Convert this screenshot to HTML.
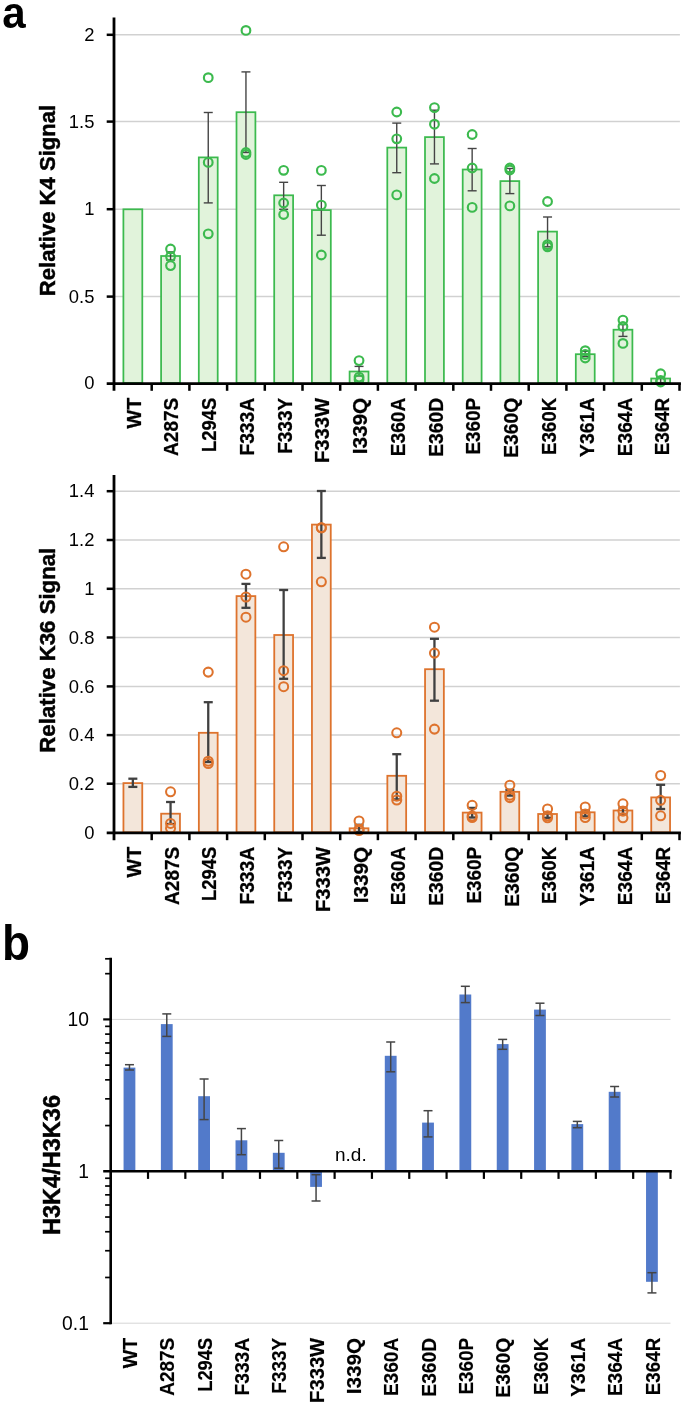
<!DOCTYPE html>
<html lang="en">
<head>
<meta charset="utf-8">
<title>Figure</title>
<style>
html,body{margin:0;padding:0;background:#fff;}
body{width:685px;height:1406px;overflow:hidden;font-family:'Liberation Sans', sans-serif;}
svg{display:block;opacity:0.999;will-change:transform;}
svg text{font-family:'Liberation Sans', sans-serif;fill:#000;}
</style>
</head>
<body>
<svg width="685" height="1406" viewBox="0 0 685 1406">
<rect x="0" y="0" width="685" height="1406" fill="#ffffff"/>
<line x1="114" y1="34.8" x2="679.9" y2="34.8" stroke="#d1d1d1" stroke-width="1.5"/>
<line x1="114" y1="121.6" x2="679.9" y2="121.6" stroke="#d1d1d1" stroke-width="1.5"/>
<line x1="114" y1="209.2" x2="679.9" y2="209.2" stroke="#d1d1d1" stroke-width="1.5"/>
<line x1="114" y1="296.6" x2="679.9" y2="296.6" stroke="#d1d1d1" stroke-width="1.5"/>
<rect x="123.4" y="209.3" width="18.9" height="173.7" fill="#e1f3db" stroke="#3cba4e" stroke-width="1.75"/>
<rect x="161.1" y="256" width="18.9" height="127" fill="#e1f3db" stroke="#3cba4e" stroke-width="1.75"/>
<rect x="198.8" y="157.4" width="18.9" height="225.6" fill="#e1f3db" stroke="#3cba4e" stroke-width="1.75"/>
<rect x="236.5" y="112.2" width="18.9" height="270.8" fill="#e1f3db" stroke="#3cba4e" stroke-width="1.75"/>
<rect x="274.2" y="195.3" width="18.9" height="187.7" fill="#e1f3db" stroke="#3cba4e" stroke-width="1.75"/>
<rect x="311.9" y="210.1" width="18.9" height="172.9" fill="#e1f3db" stroke="#3cba4e" stroke-width="1.75"/>
<rect x="349.6" y="371.5" width="18.9" height="11.5" fill="#e1f3db" stroke="#3cba4e" stroke-width="1.75"/>
<rect x="387.3" y="147.6" width="18.9" height="235.4" fill="#e1f3db" stroke="#3cba4e" stroke-width="1.75"/>
<rect x="425" y="137.1" width="18.9" height="245.9" fill="#e1f3db" stroke="#3cba4e" stroke-width="1.75"/>
<rect x="462.7" y="169.5" width="18.9" height="213.5" fill="#e1f3db" stroke="#3cba4e" stroke-width="1.75"/>
<rect x="500.4" y="181.1" width="18.9" height="201.9" fill="#e1f3db" stroke="#3cba4e" stroke-width="1.75"/>
<rect x="538.1" y="231.6" width="18.9" height="151.4" fill="#e1f3db" stroke="#3cba4e" stroke-width="1.75"/>
<rect x="575.8" y="354.2" width="18.9" height="28.8" fill="#e1f3db" stroke="#3cba4e" stroke-width="1.75"/>
<rect x="613.5" y="329.7" width="18.9" height="53.3" fill="#e1f3db" stroke="#3cba4e" stroke-width="1.75"/>
<rect x="651.2" y="378.5" width="18.9" height="4.5" fill="#e1f3db" stroke="#3cba4e" stroke-width="1.75"/>
<line x1="170.55" y1="251.9" x2="170.55" y2="260" stroke="#454545" stroke-width="1.4"/>
<line x1="166.05" y1="251.9" x2="175.05" y2="251.9" stroke="#454545" stroke-width="1.4"/>
<line x1="166.05" y1="260" x2="175.05" y2="260" stroke="#454545" stroke-width="1.4"/>
<line x1="208.25" y1="112.5" x2="208.25" y2="202.9" stroke="#454545" stroke-width="1.4"/>
<line x1="203.75" y1="112.5" x2="212.75" y2="112.5" stroke="#454545" stroke-width="1.4"/>
<line x1="203.75" y1="202.9" x2="212.75" y2="202.9" stroke="#454545" stroke-width="1.4"/>
<line x1="245.95" y1="71.9" x2="245.95" y2="152.5" stroke="#454545" stroke-width="1.4"/>
<line x1="241.45" y1="71.9" x2="250.45" y2="71.9" stroke="#454545" stroke-width="1.4"/>
<line x1="241.45" y1="152.5" x2="250.45" y2="152.5" stroke="#454545" stroke-width="1.4"/>
<line x1="283.65" y1="182.3" x2="283.65" y2="209.3" stroke="#454545" stroke-width="1.4"/>
<line x1="279.15" y1="182.3" x2="288.15" y2="182.3" stroke="#454545" stroke-width="1.4"/>
<line x1="279.15" y1="209.3" x2="288.15" y2="209.3" stroke="#454545" stroke-width="1.4"/>
<line x1="321.35" y1="185.5" x2="321.35" y2="235.2" stroke="#454545" stroke-width="1.4"/>
<line x1="316.85" y1="185.5" x2="325.85" y2="185.5" stroke="#454545" stroke-width="1.4"/>
<line x1="316.85" y1="235.2" x2="325.85" y2="235.2" stroke="#454545" stroke-width="1.4"/>
<line x1="359.05" y1="366.4" x2="359.05" y2="375.9" stroke="#454545" stroke-width="1.4"/>
<line x1="354.55" y1="366.4" x2="363.55" y2="366.4" stroke="#454545" stroke-width="1.4"/>
<line x1="354.55" y1="375.9" x2="363.55" y2="375.9" stroke="#454545" stroke-width="1.4"/>
<line x1="396.75" y1="123.1" x2="396.75" y2="172.7" stroke="#454545" stroke-width="1.4"/>
<line x1="392.25" y1="123.1" x2="401.25" y2="123.1" stroke="#454545" stroke-width="1.4"/>
<line x1="392.25" y1="172.7" x2="401.25" y2="172.7" stroke="#454545" stroke-width="1.4"/>
<line x1="434.45" y1="110.2" x2="434.45" y2="163.9" stroke="#454545" stroke-width="1.4"/>
<line x1="429.95" y1="110.2" x2="438.95" y2="110.2" stroke="#454545" stroke-width="1.4"/>
<line x1="429.95" y1="163.9" x2="438.95" y2="163.9" stroke="#454545" stroke-width="1.4"/>
<line x1="472.15" y1="148.5" x2="472.15" y2="190.8" stroke="#454545" stroke-width="1.4"/>
<line x1="467.65" y1="148.5" x2="476.65" y2="148.5" stroke="#454545" stroke-width="1.4"/>
<line x1="467.65" y1="190.8" x2="476.65" y2="190.8" stroke="#454545" stroke-width="1.4"/>
<line x1="509.85" y1="168.5" x2="509.85" y2="193.6" stroke="#454545" stroke-width="1.4"/>
<line x1="505.35" y1="168.5" x2="514.35" y2="168.5" stroke="#454545" stroke-width="1.4"/>
<line x1="505.35" y1="193.6" x2="514.35" y2="193.6" stroke="#454545" stroke-width="1.4"/>
<line x1="547.55" y1="217" x2="547.55" y2="246.8" stroke="#454545" stroke-width="1.4"/>
<line x1="543.05" y1="217" x2="552.05" y2="217" stroke="#454545" stroke-width="1.4"/>
<line x1="543.05" y1="246.8" x2="552.05" y2="246.8" stroke="#454545" stroke-width="1.4"/>
<line x1="585.25" y1="351.3" x2="585.25" y2="356.6" stroke="#454545" stroke-width="1.4"/>
<line x1="580.75" y1="351.3" x2="589.75" y2="351.3" stroke="#454545" stroke-width="1.4"/>
<line x1="580.75" y1="356.6" x2="589.75" y2="356.6" stroke="#454545" stroke-width="1.4"/>
<line x1="622.95" y1="324.5" x2="622.95" y2="336.4" stroke="#454545" stroke-width="1.4"/>
<line x1="618.45" y1="324.5" x2="627.45" y2="324.5" stroke="#454545" stroke-width="1.4"/>
<line x1="618.45" y1="336.4" x2="627.45" y2="336.4" stroke="#454545" stroke-width="1.4"/>
<line x1="660.65" y1="377" x2="660.65" y2="383" stroke="#454545" stroke-width="1.4"/>
<line x1="656.15" y1="377" x2="665.15" y2="377" stroke="#454545" stroke-width="1.4"/>
<line x1="656.15" y1="383" x2="665.15" y2="383" stroke="#454545" stroke-width="1.4"/>
<circle cx="170.55" cy="249" r="4.35" fill="none" stroke="#3cba4e" stroke-width="2.15"/>
<circle cx="170.55" cy="256.6" r="4.35" fill="none" stroke="#3cba4e" stroke-width="2.15"/>
<circle cx="170.55" cy="265.6" r="4.35" fill="none" stroke="#3cba4e" stroke-width="2.15"/>
<circle cx="208.25" cy="77.7" r="4.35" fill="none" stroke="#3cba4e" stroke-width="2.15"/>
<circle cx="208.25" cy="162.4" r="4.35" fill="none" stroke="#3cba4e" stroke-width="2.15"/>
<circle cx="208.25" cy="233.8" r="4.35" fill="none" stroke="#3cba4e" stroke-width="2.15"/>
<circle cx="245.95" cy="30.4" r="4.35" fill="none" stroke="#3cba4e" stroke-width="2.15"/>
<circle cx="245.95" cy="152.5" r="4.35" fill="none" stroke="#3cba4e" stroke-width="2.15"/>
<circle cx="245.95" cy="154.5" r="4.35" fill="none" stroke="#3cba4e" stroke-width="2.15"/>
<circle cx="283.65" cy="170.3" r="4.35" fill="none" stroke="#3cba4e" stroke-width="2.15"/>
<circle cx="283.65" cy="203" r="4.35" fill="none" stroke="#3cba4e" stroke-width="2.15"/>
<circle cx="283.65" cy="214.5" r="4.35" fill="none" stroke="#3cba4e" stroke-width="2.15"/>
<circle cx="321.35" cy="170.4" r="4.35" fill="none" stroke="#3cba4e" stroke-width="2.15"/>
<circle cx="321.35" cy="205.1" r="4.35" fill="none" stroke="#3cba4e" stroke-width="2.15"/>
<circle cx="321.35" cy="255" r="4.35" fill="none" stroke="#3cba4e" stroke-width="2.15"/>
<circle cx="359.05" cy="360.6" r="4.35" fill="none" stroke="#3cba4e" stroke-width="2.15"/>
<circle cx="359.05" cy="377.1" r="4.35" fill="none" stroke="#3cba4e" stroke-width="2.15"/>
<circle cx="359.05" cy="379.5" r="4.35" fill="none" stroke="#3cba4e" stroke-width="2.15"/>
<circle cx="396.75" cy="112" r="4.35" fill="none" stroke="#3cba4e" stroke-width="2.15"/>
<circle cx="396.75" cy="138.8" r="4.35" fill="none" stroke="#3cba4e" stroke-width="2.15"/>
<circle cx="396.75" cy="194.9" r="4.35" fill="none" stroke="#3cba4e" stroke-width="2.15"/>
<circle cx="434.45" cy="107.6" r="4.35" fill="none" stroke="#3cba4e" stroke-width="2.15"/>
<circle cx="434.45" cy="124.2" r="4.35" fill="none" stroke="#3cba4e" stroke-width="2.15"/>
<circle cx="434.45" cy="178.5" r="4.35" fill="none" stroke="#3cba4e" stroke-width="2.15"/>
<circle cx="472.15" cy="134.5" r="4.35" fill="none" stroke="#3cba4e" stroke-width="2.15"/>
<circle cx="472.15" cy="168" r="4.35" fill="none" stroke="#3cba4e" stroke-width="2.15"/>
<circle cx="472.15" cy="207.4" r="4.35" fill="none" stroke="#3cba4e" stroke-width="2.15"/>
<circle cx="509.85" cy="168" r="4.35" fill="none" stroke="#3cba4e" stroke-width="2.15"/>
<circle cx="509.85" cy="170" r="4.35" fill="none" stroke="#3cba4e" stroke-width="2.15"/>
<circle cx="509.85" cy="205.9" r="4.35" fill="none" stroke="#3cba4e" stroke-width="2.15"/>
<circle cx="547.55" cy="201.5" r="4.35" fill="none" stroke="#3cba4e" stroke-width="2.15"/>
<circle cx="547.55" cy="244.7" r="4.35" fill="none" stroke="#3cba4e" stroke-width="2.15"/>
<circle cx="547.55" cy="246.8" r="4.35" fill="none" stroke="#3cba4e" stroke-width="2.15"/>
<circle cx="585.25" cy="350.7" r="4.35" fill="none" stroke="#3cba4e" stroke-width="2.15"/>
<circle cx="585.25" cy="354.5" r="4.35" fill="none" stroke="#3cba4e" stroke-width="2.15"/>
<circle cx="585.25" cy="358" r="4.35" fill="none" stroke="#3cba4e" stroke-width="2.15"/>
<circle cx="622.95" cy="320.1" r="4.35" fill="none" stroke="#3cba4e" stroke-width="2.15"/>
<circle cx="622.95" cy="326.5" r="4.35" fill="none" stroke="#3cba4e" stroke-width="2.15"/>
<circle cx="622.95" cy="343.4" r="4.35" fill="none" stroke="#3cba4e" stroke-width="2.15"/>
<circle cx="660.65" cy="373.8" r="4.35" fill="none" stroke="#3cba4e" stroke-width="2.15"/>
<circle cx="660.65" cy="380.5" r="4.35" fill="none" stroke="#3cba4e" stroke-width="2.15"/>
<circle cx="660.65" cy="382" r="4.35" fill="none" stroke="#3cba4e" stroke-width="2.15"/>
<line x1="114" y1="17.5" x2="114" y2="390.8" stroke="#000" stroke-width="2.8"/>
<line x1="106.7" y1="383.6" x2="680.9" y2="383.6" stroke="#000" stroke-width="2.8"/>
<line x1="151.7" y1="383" x2="151.7" y2="390.8" stroke="#000" stroke-width="2.5"/>
<line x1="189.4" y1="383" x2="189.4" y2="390.8" stroke="#000" stroke-width="2.5"/>
<line x1="227.1" y1="383" x2="227.1" y2="390.8" stroke="#000" stroke-width="2.5"/>
<line x1="264.8" y1="383" x2="264.8" y2="390.8" stroke="#000" stroke-width="2.5"/>
<line x1="302.5" y1="383" x2="302.5" y2="390.8" stroke="#000" stroke-width="2.5"/>
<line x1="340.2" y1="383" x2="340.2" y2="390.8" stroke="#000" stroke-width="2.5"/>
<line x1="377.9" y1="383" x2="377.9" y2="390.8" stroke="#000" stroke-width="2.5"/>
<line x1="415.6" y1="383" x2="415.6" y2="390.8" stroke="#000" stroke-width="2.5"/>
<line x1="453.3" y1="383" x2="453.3" y2="390.8" stroke="#000" stroke-width="2.5"/>
<line x1="491" y1="383" x2="491" y2="390.8" stroke="#000" stroke-width="2.5"/>
<line x1="528.7" y1="383" x2="528.7" y2="390.8" stroke="#000" stroke-width="2.5"/>
<line x1="566.4" y1="383" x2="566.4" y2="390.8" stroke="#000" stroke-width="2.5"/>
<line x1="604.1" y1="383" x2="604.1" y2="390.8" stroke="#000" stroke-width="2.5"/>
<line x1="641.8" y1="383" x2="641.8" y2="390.8" stroke="#000" stroke-width="2.5"/>
<line x1="679.5" y1="383" x2="679.5" y2="390.8" stroke="#000" stroke-width="2.5"/>
<line x1="106.7" y1="34.8" x2="114" y2="34.8" stroke="#000" stroke-width="2.5"/>
<text x="94.4" y="40.9" font-size="18.4" font-weight="normal" text-anchor="end">2</text>
<line x1="106.7" y1="121.6" x2="114" y2="121.6" stroke="#000" stroke-width="2.5"/>
<text x="94.4" y="127.7" font-size="18.4" font-weight="normal" text-anchor="end">1.5</text>
<line x1="106.7" y1="209.2" x2="114" y2="209.2" stroke="#000" stroke-width="2.5"/>
<text x="94.4" y="215.3" font-size="18.4" font-weight="normal" text-anchor="end">1</text>
<line x1="106.7" y1="296.6" x2="114" y2="296.6" stroke="#000" stroke-width="2.5"/>
<text x="94.4" y="302.7" font-size="18.4" font-weight="normal" text-anchor="end">0.5</text>
<text x="94.4" y="389.4" font-size="18.4" font-weight="normal" text-anchor="end">0</text>
<text x="140.65" y="397.8" font-size="20" font-weight="bold" text-anchor="end" transform="rotate(-90 140.65 397.8)" textLength="30.6" lengthAdjust="spacingAndGlyphs" stroke="#000" stroke-width="0.25">WT</text>
<text x="178.41" y="397.8" font-size="20" font-weight="bold" text-anchor="end" transform="rotate(-90 178.41 397.8)" textLength="58.1" lengthAdjust="spacingAndGlyphs" stroke="#000" stroke-width="0.25">A287S</text>
<text x="216.17" y="397.8" font-size="20" font-weight="bold" text-anchor="end" transform="rotate(-90 216.17 397.8)" textLength="54.1" lengthAdjust="spacingAndGlyphs" stroke="#000" stroke-width="0.25">L294S</text>
<text x="253.93" y="397.8" font-size="20" font-weight="bold" text-anchor="end" transform="rotate(-90 253.93 397.8)" textLength="57.8" lengthAdjust="spacingAndGlyphs" stroke="#000" stroke-width="0.25">F333A</text>
<text x="291.69" y="397.8" font-size="20" font-weight="bold" text-anchor="end" transform="rotate(-90 291.69 397.8)" textLength="56" lengthAdjust="spacingAndGlyphs" stroke="#000" stroke-width="0.25">F333Y</text>
<text x="329.45" y="397.8" font-size="20" font-weight="bold" text-anchor="end" transform="rotate(-90 329.45 397.8)" textLength="65.2" lengthAdjust="spacingAndGlyphs" stroke="#000" stroke-width="0.25">F333W</text>
<text x="367.21" y="397.8" font-size="20" font-weight="bold" text-anchor="end" transform="rotate(-90 367.21 397.8)" textLength="56.5" lengthAdjust="spacingAndGlyphs" stroke="#000" stroke-width="0.25">I339Q</text>
<text x="404.97" y="397.8" font-size="20" font-weight="bold" text-anchor="end" transform="rotate(-90 404.97 397.8)" textLength="58.4" lengthAdjust="spacingAndGlyphs" stroke="#000" stroke-width="0.25">E360A</text>
<text x="442.73" y="397.8" font-size="20" font-weight="bold" text-anchor="end" transform="rotate(-90 442.73 397.8)" textLength="59" lengthAdjust="spacingAndGlyphs" stroke="#000" stroke-width="0.25">E360D</text>
<text x="480.49" y="397.8" font-size="20" font-weight="bold" text-anchor="end" transform="rotate(-90 480.49 397.8)" textLength="56.8" lengthAdjust="spacingAndGlyphs" stroke="#000" stroke-width="0.25">E360P</text>
<text x="518.25" y="397.8" font-size="20" font-weight="bold" text-anchor="end" transform="rotate(-90 518.25 397.8)" textLength="60" lengthAdjust="spacingAndGlyphs" stroke="#000" stroke-width="0.25">E360Q</text>
<text x="556.01" y="397.8" font-size="20" font-weight="bold" text-anchor="end" transform="rotate(-90 556.01 397.8)" textLength="57.2" lengthAdjust="spacingAndGlyphs" stroke="#000" stroke-width="0.25">E360K</text>
<text x="593.77" y="397.8" font-size="20" font-weight="bold" text-anchor="end" transform="rotate(-90 593.77 397.8)" textLength="59.1" lengthAdjust="spacingAndGlyphs" stroke="#000" stroke-width="0.25">Y361A</text>
<text x="631.53" y="397.8" font-size="20" font-weight="bold" text-anchor="end" transform="rotate(-90 631.53 397.8)" textLength="58.4" lengthAdjust="spacingAndGlyphs" stroke="#000" stroke-width="0.25">E364A</text>
<text x="669.29" y="397.8" font-size="20" font-weight="bold" text-anchor="end" transform="rotate(-90 669.29 397.8)" textLength="57.5" lengthAdjust="spacingAndGlyphs" stroke="#000" stroke-width="0.25">E364R</text>
<text x="55.1" y="200.5" font-size="21.3" font-weight="bold" text-anchor="middle" transform="rotate(-90 55.1 200.5)" textLength="191.5" lengthAdjust="spacingAndGlyphs" fill="#000" stroke="#000" stroke-width="0.45">Relative K4 Signal</text>
<line x1="114" y1="491.2" x2="679.9" y2="491.2" stroke="#d1d1d1" stroke-width="1.5"/>
<line x1="114" y1="540" x2="679.9" y2="540" stroke="#d1d1d1" stroke-width="1.5"/>
<line x1="114" y1="588.8" x2="679.9" y2="588.8" stroke="#d1d1d1" stroke-width="1.5"/>
<line x1="114" y1="637.5" x2="679.9" y2="637.5" stroke="#d1d1d1" stroke-width="1.5"/>
<line x1="114" y1="686.4" x2="679.9" y2="686.4" stroke="#d1d1d1" stroke-width="1.5"/>
<line x1="114" y1="735.1" x2="679.9" y2="735.1" stroke="#d1d1d1" stroke-width="1.5"/>
<line x1="114" y1="783.7" x2="679.9" y2="783.7" stroke="#d1d1d1" stroke-width="1.5"/>
<rect x="123.45" y="783.1" width="18.8" height="49.3" fill="#f3e6da" stroke="#de732d" stroke-width="1.8"/>
<rect x="161.15" y="813.7" width="18.8" height="18.7" fill="#f3e6da" stroke="#de732d" stroke-width="1.8"/>
<rect x="198.85" y="732.8" width="18.8" height="99.6" fill="#f3e6da" stroke="#de732d" stroke-width="1.8"/>
<rect x="236.55" y="596.1" width="18.8" height="236.3" fill="#f3e6da" stroke="#de732d" stroke-width="1.8"/>
<rect x="274.25" y="635" width="18.8" height="197.4" fill="#f3e6da" stroke="#de732d" stroke-width="1.8"/>
<rect x="311.95" y="524.6" width="18.8" height="307.8" fill="#f3e6da" stroke="#de732d" stroke-width="1.8"/>
<rect x="349.65" y="828.3" width="18.8" height="4.1" fill="#f3e6da" stroke="#de732d" stroke-width="1.8"/>
<rect x="387.35" y="775.8" width="18.8" height="56.6" fill="#f3e6da" stroke="#de732d" stroke-width="1.8"/>
<rect x="425.05" y="669.2" width="18.8" height="163.2" fill="#f3e6da" stroke="#de732d" stroke-width="1.8"/>
<rect x="462.75" y="812.6" width="18.8" height="19.8" fill="#f3e6da" stroke="#de732d" stroke-width="1.8"/>
<rect x="500.45" y="791.8" width="18.8" height="40.6" fill="#f3e6da" stroke="#de732d" stroke-width="1.8"/>
<rect x="538.15" y="814" width="18.8" height="18.4" fill="#f3e6da" stroke="#de732d" stroke-width="1.8"/>
<rect x="575.85" y="812.3" width="18.8" height="20.1" fill="#f3e6da" stroke="#de732d" stroke-width="1.8"/>
<rect x="613.55" y="810.5" width="18.8" height="21.9" fill="#f3e6da" stroke="#de732d" stroke-width="1.8"/>
<rect x="651.25" y="797.4" width="18.8" height="35" fill="#f3e6da" stroke="#de732d" stroke-width="1.8"/>
<line x1="132.85" y1="778.7" x2="132.85" y2="786.9" stroke="#404040" stroke-width="2.3"/>
<line x1="128.35" y1="778.7" x2="137.35" y2="778.7" stroke="#404040" stroke-width="2.3"/>
<line x1="128.35" y1="786.9" x2="137.35" y2="786.9" stroke="#404040" stroke-width="2.3"/>
<line x1="170.55" y1="802" x2="170.55" y2="824" stroke="#404040" stroke-width="2.3"/>
<line x1="166.05" y1="802" x2="175.05" y2="802" stroke="#404040" stroke-width="2.3"/>
<line x1="166.05" y1="824" x2="175.05" y2="824" stroke="#404040" stroke-width="2.3"/>
<line x1="208.25" y1="702.2" x2="208.25" y2="762" stroke="#404040" stroke-width="2.3"/>
<line x1="203.75" y1="702.2" x2="212.75" y2="702.2" stroke="#404040" stroke-width="2.3"/>
<line x1="203.75" y1="762" x2="212.75" y2="762" stroke="#404040" stroke-width="2.3"/>
<line x1="245.95" y1="583.9" x2="245.95" y2="607.8" stroke="#404040" stroke-width="2.3"/>
<line x1="241.45" y1="583.9" x2="250.45" y2="583.9" stroke="#404040" stroke-width="2.3"/>
<line x1="241.45" y1="607.8" x2="250.45" y2="607.8" stroke="#404040" stroke-width="2.3"/>
<line x1="283.65" y1="590" x2="283.65" y2="678.8" stroke="#404040" stroke-width="2.3"/>
<line x1="279.15" y1="590" x2="288.15" y2="590" stroke="#404040" stroke-width="2.3"/>
<line x1="279.15" y1="678.8" x2="288.15" y2="678.8" stroke="#404040" stroke-width="2.3"/>
<line x1="321.35" y1="491" x2="321.35" y2="557.9" stroke="#404040" stroke-width="2.3"/>
<line x1="316.85" y1="491" x2="325.85" y2="491" stroke="#404040" stroke-width="2.3"/>
<line x1="316.85" y1="557.9" x2="325.85" y2="557.9" stroke="#404040" stroke-width="2.3"/>
<line x1="359.05" y1="824.8" x2="359.05" y2="832" stroke="#404040" stroke-width="2.3"/>
<line x1="354.55" y1="824.8" x2="363.55" y2="824.8" stroke="#404040" stroke-width="2.3"/>
<line x1="354.55" y1="832" x2="363.55" y2="832" stroke="#404040" stroke-width="2.3"/>
<line x1="396.75" y1="754.2" x2="396.75" y2="799.4" stroke="#404040" stroke-width="2.3"/>
<line x1="392.25" y1="754.2" x2="401.25" y2="754.2" stroke="#404040" stroke-width="2.3"/>
<line x1="392.25" y1="799.4" x2="401.25" y2="799.4" stroke="#404040" stroke-width="2.3"/>
<line x1="434.45" y1="638.8" x2="434.45" y2="700.7" stroke="#404040" stroke-width="2.3"/>
<line x1="429.95" y1="638.8" x2="438.95" y2="638.8" stroke="#404040" stroke-width="2.3"/>
<line x1="429.95" y1="700.7" x2="438.95" y2="700.7" stroke="#404040" stroke-width="2.3"/>
<line x1="472.15" y1="807.9" x2="472.15" y2="817.5" stroke="#404040" stroke-width="2.3"/>
<line x1="467.65" y1="807.9" x2="476.65" y2="807.9" stroke="#404040" stroke-width="2.3"/>
<line x1="467.65" y1="817.5" x2="476.65" y2="817.5" stroke="#404040" stroke-width="2.3"/>
<line x1="509.85" y1="789.8" x2="509.85" y2="795.6" stroke="#404040" stroke-width="2.3"/>
<line x1="505.35" y1="789.8" x2="514.35" y2="789.8" stroke="#404040" stroke-width="2.3"/>
<line x1="505.35" y1="795.6" x2="514.35" y2="795.6" stroke="#404040" stroke-width="2.3"/>
<line x1="547.55" y1="812.8" x2="547.55" y2="817.8" stroke="#404040" stroke-width="2.3"/>
<line x1="543.05" y1="812.8" x2="552.05" y2="812.8" stroke="#404040" stroke-width="2.3"/>
<line x1="543.05" y1="817.8" x2="552.05" y2="817.8" stroke="#404040" stroke-width="2.3"/>
<line x1="585.25" y1="810.5" x2="585.25" y2="816.4" stroke="#404040" stroke-width="2.3"/>
<line x1="580.75" y1="810.5" x2="589.75" y2="810.5" stroke="#404040" stroke-width="2.3"/>
<line x1="580.75" y1="816.4" x2="589.75" y2="816.4" stroke="#404040" stroke-width="2.3"/>
<line x1="622.95" y1="807.6" x2="622.95" y2="814" stroke="#404040" stroke-width="2.3"/>
<line x1="618.45" y1="807.6" x2="627.45" y2="807.6" stroke="#404040" stroke-width="2.3"/>
<line x1="618.45" y1="814" x2="627.45" y2="814" stroke="#404040" stroke-width="2.3"/>
<line x1="660.65" y1="784.8" x2="660.65" y2="809" stroke="#404040" stroke-width="2.3"/>
<line x1="656.15" y1="784.8" x2="665.15" y2="784.8" stroke="#404040" stroke-width="2.3"/>
<line x1="656.15" y1="809" x2="665.15" y2="809" stroke="#404040" stroke-width="2.3"/>
<circle cx="170.55" cy="791.8" r="4.5" fill="none" stroke="#de732d" stroke-width="2.05"/>
<circle cx="170.55" cy="823.4" r="4.5" fill="none" stroke="#de732d" stroke-width="2.05"/>
<circle cx="170.55" cy="828.3" r="4.5" fill="none" stroke="#de732d" stroke-width="2.05"/>
<circle cx="208.25" cy="672.1" r="4.5" fill="none" stroke="#de732d" stroke-width="2.05"/>
<circle cx="208.25" cy="761.2" r="4.5" fill="none" stroke="#de732d" stroke-width="2.05"/>
<circle cx="208.25" cy="763.5" r="4.5" fill="none" stroke="#de732d" stroke-width="2.05"/>
<circle cx="245.95" cy="574.2" r="4.5" fill="none" stroke="#de732d" stroke-width="2.05"/>
<circle cx="245.95" cy="597" r="4.5" fill="none" stroke="#de732d" stroke-width="2.05"/>
<circle cx="245.95" cy="617.2" r="4.5" fill="none" stroke="#de732d" stroke-width="2.05"/>
<circle cx="283.65" cy="546.8" r="4.5" fill="none" stroke="#de732d" stroke-width="2.05"/>
<circle cx="283.65" cy="670.7" r="4.5" fill="none" stroke="#de732d" stroke-width="2.05"/>
<circle cx="283.65" cy="686.7" r="4.5" fill="none" stroke="#de732d" stroke-width="2.05"/>
<circle cx="321.35" cy="527.8" r="4.5" fill="none" stroke="#de732d" stroke-width="2.05"/>
<circle cx="321.35" cy="527.8" r="4.5" fill="none" stroke="#de732d" stroke-width="2.05"/>
<circle cx="321.35" cy="581.8" r="4.5" fill="none" stroke="#de732d" stroke-width="2.05"/>
<circle cx="359.05" cy="821" r="4.5" fill="none" stroke="#de732d" stroke-width="2.05"/>
<circle cx="359.05" cy="829.2" r="4.5" fill="none" stroke="#de732d" stroke-width="2.05"/>
<circle cx="359.05" cy="830.5" r="4.5" fill="none" stroke="#de732d" stroke-width="2.05"/>
<circle cx="396.75" cy="732.8" r="4.5" fill="none" stroke="#de732d" stroke-width="2.05"/>
<circle cx="396.75" cy="796.2" r="4.5" fill="none" stroke="#de732d" stroke-width="2.05"/>
<circle cx="396.75" cy="800" r="4.5" fill="none" stroke="#de732d" stroke-width="2.05"/>
<circle cx="434.45" cy="627.2" r="4.5" fill="none" stroke="#de732d" stroke-width="2.05"/>
<circle cx="434.45" cy="653.1" r="4.5" fill="none" stroke="#de732d" stroke-width="2.05"/>
<circle cx="434.45" cy="729.1" r="4.5" fill="none" stroke="#de732d" stroke-width="2.05"/>
<circle cx="472.15" cy="805.3" r="4.5" fill="none" stroke="#de732d" stroke-width="2.05"/>
<circle cx="472.15" cy="816" r="4.5" fill="none" stroke="#de732d" stroke-width="2.05"/>
<circle cx="472.15" cy="817.5" r="4.5" fill="none" stroke="#de732d" stroke-width="2.05"/>
<circle cx="509.85" cy="785.2" r="4.5" fill="none" stroke="#de732d" stroke-width="2.05"/>
<circle cx="509.85" cy="795.2" r="4.5" fill="none" stroke="#de732d" stroke-width="2.05"/>
<circle cx="509.85" cy="797.6" r="4.5" fill="none" stroke="#de732d" stroke-width="2.05"/>
<circle cx="547.55" cy="809" r="4.5" fill="none" stroke="#de732d" stroke-width="2.05"/>
<circle cx="547.55" cy="815.8" r="4.5" fill="none" stroke="#de732d" stroke-width="2.05"/>
<circle cx="547.55" cy="817.8" r="4.5" fill="none" stroke="#de732d" stroke-width="2.05"/>
<circle cx="585.25" cy="807" r="4.5" fill="none" stroke="#de732d" stroke-width="2.05"/>
<circle cx="585.25" cy="814" r="4.5" fill="none" stroke="#de732d" stroke-width="2.05"/>
<circle cx="585.25" cy="817.5" r="4.5" fill="none" stroke="#de732d" stroke-width="2.05"/>
<circle cx="622.95" cy="803.8" r="4.5" fill="none" stroke="#de732d" stroke-width="2.05"/>
<circle cx="622.95" cy="811.1" r="4.5" fill="none" stroke="#de732d" stroke-width="2.05"/>
<circle cx="622.95" cy="817.8" r="4.5" fill="none" stroke="#de732d" stroke-width="2.05"/>
<circle cx="660.65" cy="775.5" r="4.5" fill="none" stroke="#de732d" stroke-width="2.05"/>
<circle cx="660.65" cy="800.3" r="4.5" fill="none" stroke="#de732d" stroke-width="2.05"/>
<circle cx="660.65" cy="815.8" r="4.5" fill="none" stroke="#de732d" stroke-width="2.05"/>
<line x1="114" y1="475" x2="114" y2="840.2" stroke="#000" stroke-width="2.8"/>
<line x1="106.7" y1="832.8" x2="680.9" y2="832.8" stroke="#000" stroke-width="2.8"/>
<line x1="151.7" y1="832.4" x2="151.7" y2="840.2" stroke="#000" stroke-width="2.5"/>
<line x1="189.4" y1="832.4" x2="189.4" y2="840.2" stroke="#000" stroke-width="2.5"/>
<line x1="227.1" y1="832.4" x2="227.1" y2="840.2" stroke="#000" stroke-width="2.5"/>
<line x1="264.8" y1="832.4" x2="264.8" y2="840.2" stroke="#000" stroke-width="2.5"/>
<line x1="302.5" y1="832.4" x2="302.5" y2="840.2" stroke="#000" stroke-width="2.5"/>
<line x1="340.2" y1="832.4" x2="340.2" y2="840.2" stroke="#000" stroke-width="2.5"/>
<line x1="377.9" y1="832.4" x2="377.9" y2="840.2" stroke="#000" stroke-width="2.5"/>
<line x1="415.6" y1="832.4" x2="415.6" y2="840.2" stroke="#000" stroke-width="2.5"/>
<line x1="453.3" y1="832.4" x2="453.3" y2="840.2" stroke="#000" stroke-width="2.5"/>
<line x1="491" y1="832.4" x2="491" y2="840.2" stroke="#000" stroke-width="2.5"/>
<line x1="528.7" y1="832.4" x2="528.7" y2="840.2" stroke="#000" stroke-width="2.5"/>
<line x1="566.4" y1="832.4" x2="566.4" y2="840.2" stroke="#000" stroke-width="2.5"/>
<line x1="604.1" y1="832.4" x2="604.1" y2="840.2" stroke="#000" stroke-width="2.5"/>
<line x1="641.8" y1="832.4" x2="641.8" y2="840.2" stroke="#000" stroke-width="2.5"/>
<line x1="679.5" y1="832.4" x2="679.5" y2="840.2" stroke="#000" stroke-width="2.5"/>
<line x1="106.7" y1="491.2" x2="114" y2="491.2" stroke="#000" stroke-width="2.5"/>
<text x="94.4" y="497.3" font-size="18.4" font-weight="normal" text-anchor="end">1.4</text>
<line x1="106.7" y1="540" x2="114" y2="540" stroke="#000" stroke-width="2.5"/>
<text x="94.4" y="546.1" font-size="18.4" font-weight="normal" text-anchor="end">1.2</text>
<line x1="106.7" y1="588.8" x2="114" y2="588.8" stroke="#000" stroke-width="2.5"/>
<text x="94.4" y="594.9" font-size="18.4" font-weight="normal" text-anchor="end">1</text>
<line x1="106.7" y1="637.5" x2="114" y2="637.5" stroke="#000" stroke-width="2.5"/>
<text x="94.4" y="643.6" font-size="18.4" font-weight="normal" text-anchor="end">0.8</text>
<line x1="106.7" y1="686.4" x2="114" y2="686.4" stroke="#000" stroke-width="2.5"/>
<text x="94.4" y="692.5" font-size="18.4" font-weight="normal" text-anchor="end">0.6</text>
<line x1="106.7" y1="735.1" x2="114" y2="735.1" stroke="#000" stroke-width="2.5"/>
<text x="94.4" y="741.2" font-size="18.4" font-weight="normal" text-anchor="end">0.4</text>
<line x1="106.7" y1="783.7" x2="114" y2="783.7" stroke="#000" stroke-width="2.5"/>
<text x="94.4" y="789.8" font-size="18.4" font-weight="normal" text-anchor="end">0.2</text>
<text x="94.4" y="838.9" font-size="18.4" font-weight="normal" text-anchor="end">0</text>
<text x="140.95" y="846.8" font-size="20" font-weight="bold" text-anchor="end" transform="rotate(-90 140.95 846.8)" textLength="30.6" lengthAdjust="spacingAndGlyphs" stroke="#000" stroke-width="0.25">WT</text>
<text x="178.71" y="846.8" font-size="20" font-weight="bold" text-anchor="end" transform="rotate(-90 178.71 846.8)" textLength="58.1" lengthAdjust="spacingAndGlyphs" stroke="#000" stroke-width="0.25">A287S</text>
<text x="216.47" y="846.8" font-size="20" font-weight="bold" text-anchor="end" transform="rotate(-90 216.47 846.8)" textLength="54.1" lengthAdjust="spacingAndGlyphs" stroke="#000" stroke-width="0.25">L294S</text>
<text x="254.23" y="846.8" font-size="20" font-weight="bold" text-anchor="end" transform="rotate(-90 254.23 846.8)" textLength="57.8" lengthAdjust="spacingAndGlyphs" stroke="#000" stroke-width="0.25">F333A</text>
<text x="291.99" y="846.8" font-size="20" font-weight="bold" text-anchor="end" transform="rotate(-90 291.99 846.8)" textLength="56" lengthAdjust="spacingAndGlyphs" stroke="#000" stroke-width="0.25">F333Y</text>
<text x="329.75" y="846.8" font-size="20" font-weight="bold" text-anchor="end" transform="rotate(-90 329.75 846.8)" textLength="65.2" lengthAdjust="spacingAndGlyphs" stroke="#000" stroke-width="0.25">F333W</text>
<text x="367.51" y="846.8" font-size="20" font-weight="bold" text-anchor="end" transform="rotate(-90 367.51 846.8)" textLength="56.5" lengthAdjust="spacingAndGlyphs" stroke="#000" stroke-width="0.25">I339Q</text>
<text x="405.27" y="846.8" font-size="20" font-weight="bold" text-anchor="end" transform="rotate(-90 405.27 846.8)" textLength="58.4" lengthAdjust="spacingAndGlyphs" stroke="#000" stroke-width="0.25">E360A</text>
<text x="443.03" y="846.8" font-size="20" font-weight="bold" text-anchor="end" transform="rotate(-90 443.03 846.8)" textLength="59" lengthAdjust="spacingAndGlyphs" stroke="#000" stroke-width="0.25">E360D</text>
<text x="480.79" y="846.8" font-size="20" font-weight="bold" text-anchor="end" transform="rotate(-90 480.79 846.8)" textLength="56.8" lengthAdjust="spacingAndGlyphs" stroke="#000" stroke-width="0.25">E360P</text>
<text x="518.55" y="846.8" font-size="20" font-weight="bold" text-anchor="end" transform="rotate(-90 518.55 846.8)" textLength="60" lengthAdjust="spacingAndGlyphs" stroke="#000" stroke-width="0.25">E360Q</text>
<text x="556.31" y="846.8" font-size="20" font-weight="bold" text-anchor="end" transform="rotate(-90 556.31 846.8)" textLength="57.2" lengthAdjust="spacingAndGlyphs" stroke="#000" stroke-width="0.25">E360K</text>
<text x="594.07" y="846.8" font-size="20" font-weight="bold" text-anchor="end" transform="rotate(-90 594.07 846.8)" textLength="59.1" lengthAdjust="spacingAndGlyphs" stroke="#000" stroke-width="0.25">Y361A</text>
<text x="631.83" y="846.8" font-size="20" font-weight="bold" text-anchor="end" transform="rotate(-90 631.83 846.8)" textLength="58.4" lengthAdjust="spacingAndGlyphs" stroke="#000" stroke-width="0.25">E364A</text>
<text x="669.59" y="846.8" font-size="20" font-weight="bold" text-anchor="end" transform="rotate(-90 669.59 846.8)" textLength="57.5" lengthAdjust="spacingAndGlyphs" stroke="#000" stroke-width="0.25">E364R</text>
<text x="55.1" y="650.2" font-size="21.3" font-weight="bold" text-anchor="middle" transform="rotate(-90 55.1 650.2)" textLength="205" lengthAdjust="spacingAndGlyphs" fill="#000" stroke="#000" stroke-width="0.45">Relative K36 Signal</text>
<line x1="110.7" y1="1019.4" x2="670.5" y2="1019.4" stroke="#d6d6d6" stroke-width="1"/>
<line x1="110.7" y1="1323.2" x2="670.5" y2="1323.2" stroke="#d6d6d6" stroke-width="1"/>
<rect x="123.56" y="1067.6" width="11.8" height="103.7" fill="#527aca"/>
<rect x="160.88" y="1024.1" width="11.8" height="147.2" fill="#527aca"/>
<rect x="198.2" y="1096.2" width="11.8" height="75.1" fill="#527aca"/>
<rect x="235.52" y="1140.3" width="11.8" height="31" fill="#527aca"/>
<rect x="272.84" y="1152.8" width="11.8" height="18.5" fill="#527aca"/>
<rect x="310.16" y="1171.3" width="11.8" height="15.6" fill="#527aca"/>
<rect x="384.8" y="1055.8" width="11.8" height="115.5" fill="#527aca"/>
<rect x="422.12" y="1122.6" width="11.8" height="48.7" fill="#527aca"/>
<rect x="459.44" y="994.5" width="11.8" height="176.8" fill="#527aca"/>
<rect x="496.76" y="1044.1" width="11.8" height="127.2" fill="#527aca"/>
<rect x="534.08" y="1009.6" width="11.8" height="161.7" fill="#527aca"/>
<rect x="571.4" y="1124.1" width="11.8" height="47.2" fill="#527aca"/>
<rect x="608.72" y="1091.8" width="11.8" height="79.5" fill="#527aca"/>
<rect x="646.04" y="1171.3" width="11.8" height="110.5" fill="#527aca"/>
<line x1="129.46" y1="1064.7" x2="129.46" y2="1070" stroke="#454545" stroke-width="1.5"/>
<line x1="124.96" y1="1064.7" x2="133.96" y2="1064.7" stroke="#454545" stroke-width="1.5"/>
<line x1="124.96" y1="1070" x2="133.96" y2="1070" stroke="#454545" stroke-width="1.5"/>
<line x1="166.78" y1="1013.9" x2="166.78" y2="1036.4" stroke="#454545" stroke-width="1.5"/>
<line x1="162.28" y1="1013.9" x2="171.28" y2="1013.9" stroke="#454545" stroke-width="1.5"/>
<line x1="162.28" y1="1036.4" x2="171.28" y2="1036.4" stroke="#454545" stroke-width="1.5"/>
<line x1="204.1" y1="1079" x2="204.1" y2="1119.6" stroke="#454545" stroke-width="1.5"/>
<line x1="199.6" y1="1079" x2="208.6" y2="1079" stroke="#454545" stroke-width="1.5"/>
<line x1="199.6" y1="1119.6" x2="208.6" y2="1119.6" stroke="#454545" stroke-width="1.5"/>
<line x1="241.42" y1="1128.6" x2="241.42" y2="1154.7" stroke="#454545" stroke-width="1.5"/>
<line x1="236.92" y1="1128.6" x2="245.92" y2="1128.6" stroke="#454545" stroke-width="1.5"/>
<line x1="236.92" y1="1154.7" x2="245.92" y2="1154.7" stroke="#454545" stroke-width="1.5"/>
<line x1="278.74" y1="1140.5" x2="278.74" y2="1168.2" stroke="#454545" stroke-width="1.5"/>
<line x1="274.24" y1="1140.5" x2="283.24" y2="1140.5" stroke="#454545" stroke-width="1.5"/>
<line x1="274.24" y1="1168.2" x2="283.24" y2="1168.2" stroke="#454545" stroke-width="1.5"/>
<line x1="316.06" y1="1174.7" x2="316.06" y2="1201" stroke="#454545" stroke-width="1.5"/>
<line x1="311.56" y1="1174.7" x2="320.56" y2="1174.7" stroke="#454545" stroke-width="1.5"/>
<line x1="311.56" y1="1201" x2="320.56" y2="1201" stroke="#454545" stroke-width="1.5"/>
<line x1="390.7" y1="1042" x2="390.7" y2="1071.8" stroke="#454545" stroke-width="1.5"/>
<line x1="386.2" y1="1042" x2="395.2" y2="1042" stroke="#454545" stroke-width="1.5"/>
<line x1="386.2" y1="1071.8" x2="395.2" y2="1071.8" stroke="#454545" stroke-width="1.5"/>
<line x1="428.02" y1="1110.7" x2="428.02" y2="1136.9" stroke="#454545" stroke-width="1.5"/>
<line x1="423.52" y1="1110.7" x2="432.52" y2="1110.7" stroke="#454545" stroke-width="1.5"/>
<line x1="423.52" y1="1136.9" x2="432.52" y2="1136.9" stroke="#454545" stroke-width="1.5"/>
<line x1="465.34" y1="986.3" x2="465.34" y2="1002.6" stroke="#454545" stroke-width="1.5"/>
<line x1="460.84" y1="986.3" x2="469.84" y2="986.3" stroke="#454545" stroke-width="1.5"/>
<line x1="460.84" y1="1002.6" x2="469.84" y2="1002.6" stroke="#454545" stroke-width="1.5"/>
<line x1="502.66" y1="1039.4" x2="502.66" y2="1049.3" stroke="#454545" stroke-width="1.5"/>
<line x1="498.16" y1="1039.4" x2="507.16" y2="1039.4" stroke="#454545" stroke-width="1.5"/>
<line x1="498.16" y1="1049.3" x2="507.16" y2="1049.3" stroke="#454545" stroke-width="1.5"/>
<line x1="539.98" y1="1003.2" x2="539.98" y2="1015.5" stroke="#454545" stroke-width="1.5"/>
<line x1="535.48" y1="1003.2" x2="544.48" y2="1003.2" stroke="#454545" stroke-width="1.5"/>
<line x1="535.48" y1="1015.5" x2="544.48" y2="1015.5" stroke="#454545" stroke-width="1.5"/>
<line x1="577.3" y1="1121.4" x2="577.3" y2="1127.7" stroke="#454545" stroke-width="1.5"/>
<line x1="572.8" y1="1121.4" x2="581.8" y2="1121.4" stroke="#454545" stroke-width="1.5"/>
<line x1="572.8" y1="1127.7" x2="581.8" y2="1127.7" stroke="#454545" stroke-width="1.5"/>
<line x1="614.62" y1="1086.5" x2="614.62" y2="1097" stroke="#454545" stroke-width="1.5"/>
<line x1="610.12" y1="1086.5" x2="619.12" y2="1086.5" stroke="#454545" stroke-width="1.5"/>
<line x1="610.12" y1="1097" x2="619.12" y2="1097" stroke="#454545" stroke-width="1.5"/>
<line x1="651.94" y1="1272.7" x2="651.94" y2="1292.9" stroke="#454545" stroke-width="1.5"/>
<line x1="647.44" y1="1272.7" x2="656.44" y2="1272.7" stroke="#454545" stroke-width="1.5"/>
<line x1="647.44" y1="1292.9" x2="656.44" y2="1292.9" stroke="#454545" stroke-width="1.5"/>
<line x1="110.7" y1="957.8" x2="110.7" y2="1324.2" stroke="#000" stroke-width="2.6"/>
<line x1="103.2" y1="1171.3" x2="671.8" y2="1171.3" stroke="#000" stroke-width="2.6"/>
<line x1="148.02" y1="1171.3" x2="148.02" y2="1178.9" stroke="#000" stroke-width="2.2"/>
<line x1="185.34" y1="1171.3" x2="185.34" y2="1178.9" stroke="#000" stroke-width="2.2"/>
<line x1="222.66" y1="1171.3" x2="222.66" y2="1178.9" stroke="#000" stroke-width="2.2"/>
<line x1="259.98" y1="1171.3" x2="259.98" y2="1178.9" stroke="#000" stroke-width="2.2"/>
<line x1="297.3" y1="1171.3" x2="297.3" y2="1178.9" stroke="#000" stroke-width="2.2"/>
<line x1="334.62" y1="1171.3" x2="334.62" y2="1178.9" stroke="#000" stroke-width="2.2"/>
<line x1="371.94" y1="1171.3" x2="371.94" y2="1178.9" stroke="#000" stroke-width="2.2"/>
<line x1="409.26" y1="1171.3" x2="409.26" y2="1178.9" stroke="#000" stroke-width="2.2"/>
<line x1="446.58" y1="1171.3" x2="446.58" y2="1178.9" stroke="#000" stroke-width="2.2"/>
<line x1="483.9" y1="1171.3" x2="483.9" y2="1178.9" stroke="#000" stroke-width="2.2"/>
<line x1="521.22" y1="1171.3" x2="521.22" y2="1178.9" stroke="#000" stroke-width="2.2"/>
<line x1="558.54" y1="1171.3" x2="558.54" y2="1178.9" stroke="#000" stroke-width="2.2"/>
<line x1="595.86" y1="1171.3" x2="595.86" y2="1178.9" stroke="#000" stroke-width="2.2"/>
<line x1="633.18" y1="1171.3" x2="633.18" y2="1178.9" stroke="#000" stroke-width="2.2"/>
<line x1="670.5" y1="1171.3" x2="670.5" y2="1178.9" stroke="#000" stroke-width="2.2"/>
<line x1="103.2" y1="1019.4" x2="110.7" y2="1019.4" stroke="#000" stroke-width="2.2"/>
<line x1="103.2" y1="1323.2" x2="110.7" y2="1323.2" stroke="#000" stroke-width="2.2"/>
<line x1="105.1" y1="973.67" x2="110.7" y2="973.67" stroke="#000" stroke-width="1.7"/>
<line x1="105.1" y1="1125.57" x2="110.7" y2="1125.57" stroke="#000" stroke-width="1.7"/>
<line x1="105.1" y1="1098.83" x2="110.7" y2="1098.83" stroke="#000" stroke-width="1.7"/>
<line x1="105.1" y1="1079.85" x2="110.7" y2="1079.85" stroke="#000" stroke-width="1.7"/>
<line x1="105.1" y1="1065.13" x2="110.7" y2="1065.13" stroke="#000" stroke-width="1.7"/>
<line x1="105.1" y1="1053.1" x2="110.7" y2="1053.1" stroke="#000" stroke-width="1.7"/>
<line x1="105.1" y1="1042.93" x2="110.7" y2="1042.93" stroke="#000" stroke-width="1.7"/>
<line x1="105.1" y1="1034.12" x2="110.7" y2="1034.12" stroke="#000" stroke-width="1.7"/>
<line x1="105.1" y1="1026.35" x2="110.7" y2="1026.35" stroke="#000" stroke-width="1.7"/>
<line x1="105.1" y1="1277.47" x2="110.7" y2="1277.47" stroke="#000" stroke-width="1.7"/>
<line x1="105.1" y1="1250.73" x2="110.7" y2="1250.73" stroke="#000" stroke-width="1.7"/>
<line x1="105.1" y1="1231.75" x2="110.7" y2="1231.75" stroke="#000" stroke-width="1.7"/>
<line x1="105.1" y1="1217.03" x2="110.7" y2="1217.03" stroke="#000" stroke-width="1.7"/>
<line x1="105.1" y1="1205" x2="110.7" y2="1205" stroke="#000" stroke-width="1.7"/>
<line x1="105.1" y1="1194.83" x2="110.7" y2="1194.83" stroke="#000" stroke-width="1.7"/>
<line x1="105.1" y1="1186.02" x2="110.7" y2="1186.02" stroke="#000" stroke-width="1.7"/>
<line x1="105.1" y1="1178.25" x2="110.7" y2="1178.25" stroke="#000" stroke-width="1.7"/>
<line x1="105.1" y1="958.8" x2="110.7" y2="958.8" stroke="#000" stroke-width="1.7"/>
<text x="88.9" y="1025.9" font-size="19.3" font-weight="normal" text-anchor="end">10</text>
<text x="88.9" y="1177.8" font-size="19.3" font-weight="normal" text-anchor="end">1</text>
<text x="88.9" y="1329.7" font-size="19.3" font-weight="normal" text-anchor="end">0.1</text>
<text x="335" y="1161.4" font-size="19" font-weight="normal" text-anchor="start">n.d.</text>
<text x="137.06" y="1337.8" font-size="20" font-weight="bold" text-anchor="end" transform="rotate(-90 137.06 1337.8)" textLength="30.8" lengthAdjust="spacingAndGlyphs" stroke="#000" stroke-width="0.15">WT</text>
<text x="174.38" y="1337.8" font-size="20" font-weight="bold" text-anchor="end" transform="rotate(-90 174.38 1337.8)" textLength="58" lengthAdjust="spacingAndGlyphs" stroke="#000" stroke-width="0.15">A287S</text>
<text x="211.7" y="1337.8" font-size="20" font-weight="bold" text-anchor="end" transform="rotate(-90 211.7 1337.8)" textLength="54" lengthAdjust="spacingAndGlyphs" stroke="#000" stroke-width="0.15">L294S</text>
<text x="249.02" y="1337.8" font-size="20" font-weight="bold" text-anchor="end" transform="rotate(-90 249.02 1337.8)" textLength="57.7" lengthAdjust="spacingAndGlyphs" stroke="#000" stroke-width="0.15">F333A</text>
<text x="286.34" y="1337.8" font-size="20" font-weight="bold" text-anchor="end" transform="rotate(-90 286.34 1337.8)" textLength="55.9" lengthAdjust="spacingAndGlyphs" stroke="#000" stroke-width="0.15">F333Y</text>
<text x="323.66" y="1337.8" font-size="20" font-weight="bold" text-anchor="end" transform="rotate(-90 323.66 1337.8)" textLength="65.1" lengthAdjust="spacingAndGlyphs" stroke="#000" stroke-width="0.15">F333W</text>
<text x="360.98" y="1337.8" font-size="20" font-weight="bold" text-anchor="end" transform="rotate(-90 360.98 1337.8)" textLength="56.4" lengthAdjust="spacingAndGlyphs" stroke="#000" stroke-width="0.15">I339Q</text>
<text x="398.3" y="1337.8" font-size="20" font-weight="bold" text-anchor="end" transform="rotate(-90 398.3 1337.8)" textLength="58.3" lengthAdjust="spacingAndGlyphs" stroke="#000" stroke-width="0.15">E360A</text>
<text x="435.62" y="1337.8" font-size="20" font-weight="bold" text-anchor="end" transform="rotate(-90 435.62 1337.8)" textLength="58.9" lengthAdjust="spacingAndGlyphs" stroke="#000" stroke-width="0.15">E360D</text>
<text x="472.94" y="1337.8" font-size="20" font-weight="bold" text-anchor="end" transform="rotate(-90 472.94 1337.8)" textLength="56.7" lengthAdjust="spacingAndGlyphs" stroke="#000" stroke-width="0.15">E360P</text>
<text x="510.26" y="1337.8" font-size="20" font-weight="bold" text-anchor="end" transform="rotate(-90 510.26 1337.8)" textLength="59.9" lengthAdjust="spacingAndGlyphs" stroke="#000" stroke-width="0.15">E360Q</text>
<text x="547.58" y="1337.8" font-size="20" font-weight="bold" text-anchor="end" transform="rotate(-90 547.58 1337.8)" textLength="57.1" lengthAdjust="spacingAndGlyphs" stroke="#000" stroke-width="0.15">E360K</text>
<text x="584.9" y="1337.8" font-size="20" font-weight="bold" text-anchor="end" transform="rotate(-90 584.9 1337.8)" textLength="59" lengthAdjust="spacingAndGlyphs" stroke="#000" stroke-width="0.15">Y361A</text>
<text x="622.22" y="1337.8" font-size="20" font-weight="bold" text-anchor="end" transform="rotate(-90 622.22 1337.8)" textLength="58.3" lengthAdjust="spacingAndGlyphs" stroke="#000" stroke-width="0.15">E364A</text>
<text x="659.54" y="1337.8" font-size="20" font-weight="bold" text-anchor="end" transform="rotate(-90 659.54 1337.8)" textLength="57.4" lengthAdjust="spacingAndGlyphs" stroke="#000" stroke-width="0.15">E364R</text>
<text x="60.1" y="1165" font-size="23" font-weight="bold" text-anchor="middle" transform="rotate(-90 60.1 1165)" textLength="140" lengthAdjust="spacingAndGlyphs" fill="#000" stroke="#000" stroke-width="0.45">H3K4/H3K36</text>
<text x="2.2" y="27.8" font-size="43.5" font-weight="bold" text-anchor="start" fill="#000" textLength="23.4" lengthAdjust="spacingAndGlyphs">a</text>
<text x="1.9" y="959.5" font-size="50.3" font-weight="bold" text-anchor="start" fill="#000" textLength="28.0" lengthAdjust="spacingAndGlyphs">b</text>
</svg>
</body>
</html>
